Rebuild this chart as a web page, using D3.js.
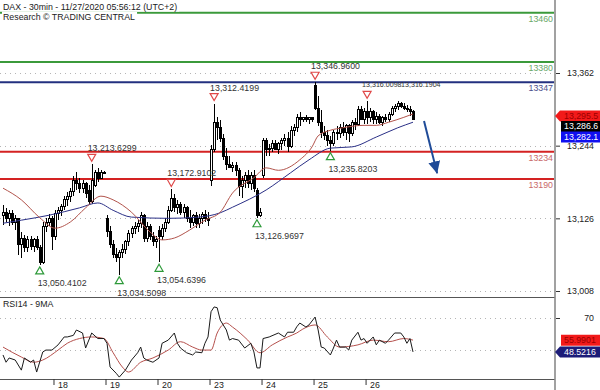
<!DOCTYPE html>
<html>
<head>
<meta charset="utf-8">
<script src="https://cdn.jsdelivr.net/npm/d3@7"></script>
<style>
  body { margin: 0; background: #fff; }
  svg text { font-family: Arial, "Liberation Sans", sans-serif; }
</style>
</head>
<body>
<svg id="chart" width="600" height="390"></svg>
<script>
// DAX 30min bars, [open, high, low, close], 17 bars per session
const candles = [
  [13131,13148,13115,13136],[13136,13143,13120,13126],[13126,13139,13113,13134],[13134,13139,13115,13120],
  [13120,13131,13107,13126],[13126,13126,13066,13083],[13083,13104,13061,13094],[13094,13099,13071,13078],
  [13078,13097,13071,13091],[13091,13097,13075,13081],[13081,13094,13071,13091],[13091,13097,13075,13078],
  [13078,13083,13050.41,13055],[13055,13120,13052,13113],[13113,13126,13104,13120],[13120,13133,13113,13126],
  [13126,13130,13075,13097],
  [13097,13139,13091,13134],[13134,13144,13123,13139],[13139,13149,13129,13146],[13146,13162,13139,13156],
  [13156,13169,13146,13162],[13162,13175,13152,13169],[13169,13195,13162,13188],[13188,13201,13172,13182],
  [13182,13191,13167,13175],[13175,13188,13167,13182],[13182,13185,13159,13167],[13172,13180,13148,13153],
  [13153,13213.63,13150,13188],[13180,13204,13177,13201],[13201,13207,13185,13191],[13191,13204,13191,13201],
  [13201,13203,13199,13201],
  [13126,13131,13096,13104],[13104,13113,13078,13084],[13084,13091,13062,13068],[13068,13078,13055,13062],
  [13062,13075,13034.51,13071],[13071,13084,13062,13075],[13075,13091,13068,13088],[13088,13107,13081,13101],
  [13101,13113,13094,13110],[13110,13120,13101,13113],[13113,13123,13104,13117],[13117,13136,13110,13130],
  [13130,13133,13088,13094],[13094,13120,13088,13113],[13113,13117,13091,13097],[13097,13104,13081,13088],
  [13088,13097,13078,13091],
  [13107,13113,13054.64,13097],[13097,13117,13091,13110],[13110,13126,13104,13120],[13120,13146,13117,13139],
  [13139,13172.91,13136,13159],[13159,13165,13136,13143],[13143,13156,13133,13149],[13149,13152,13131,13136],
  [13136,13149,13126,13143],[13143,13146,13120,13126],[13126,13139,13110,13120],[13120,13133,13113,13130],
  [13130,13136,13110,13117],[13117,13133,13110,13126],[13126,13136,13117,13133],[13133,13139,13120,13126],
  [13126,13136,13113,13123],
  [13188,13245,13179,13237],[13237,13312.42,13234,13282],[13282,13291,13253,13273],[13273,13286,13250,13256],
  [13256,13263,13221,13227],[13227,13240,13204,13214],[13214,13227,13208,13208],[13208,13217,13201,13211],
  [13211,13217,13195,13204],[13204,13208,13162,13178],[13178,13195,13159,13188],[13188,13201,13175,13195],
  [13195,13204,13175,13182],[13182,13201,13172,13195],[13195,13204,13169,13175],[13172,13175,13126.97,13131],
  [13131,13143,13128,13136],
  [13195,13256,13191,13253],[13253,13256,13227,13237],[13237,13246,13227,13240],[13240,13253,13234,13247],
  [13247,13253,13237,13237],[13237,13250,13230,13247],[13247,13256,13237,13253],[13253,13263,13243,13256],
  [13256,13266,13234,13243],[13243,13276,13240,13269],[13269,13279,13260,13273],[13273,13295,13266,13289],
  [13289,13299,13276,13286],[13286,13289,13282,13289],[13289,13294,13282,13286],[13286,13289,13279,13289],
  [13289,13291,13282,13287],
  [13341,13346.96,13302,13305],[13305,13325,13276,13282],[13282,13302,13256,13266],[13266,13276,13253,13260],
  [13260,13269,13243,13253],[13253,13259,13235.82,13247],[13247,13269,13243,13266],[13266,13276,13253,13263],
  [13263,13279,13256,13273],[13273,13282,13260,13266],[13266,13279,13253,13276],[13276,13279,13250,13263],
  [13263,13286,13260,13282],[13282,13289,13269,13279],[13279,13308,13276,13302],[13302,13308,13286,13286],
  [13286,13305,13279,13299],
  [13299,13316.01,13279,13289],[13289,13305,13282,13299],[13299,13302,13279,13286],[13286,13299,13279,13292],
  [13292,13295,13279,13282],[13282,13292,13276,13289],[13289,13295,13282,13286],[13286,13299,13282,13295],
  [13295,13308,13292,13305],[13305,13312,13299,13308],[13308,13316.19,13302,13312],[13312,13315,13305,13308],
  [13308,13313,13302,13305],[13305,13310,13299,13302],[13302,13308,13292,13299],[13299,13302,13286,13286.6]
]

// session starts (bar index) and their date labels
const dayStart = [17, 34, 51, 68, 85, 102, 119]
const dayLabels = ['18', '19', '20', '23', '24', '25', '26']

const priceTicks = [13008, 13126, 13244, 13362]
const rsiTicks = [70]
const rsiGridLevels = [50, 70]

// support / resistance levels
const resistances = [13460, 13380]
const pivot = [13347]
const supports = [13234, 13190]

// moving averages: [bar index, value]
const maFast = [[0,13175],[6,13156],[12,13127],[17,13110],[22,13120],[27,13143],[32,13162],[36,13156],
  [42,13136],[48,13104],[52,13091],[56,13094],[61,13107],[66,13123],[71,13136],[75,13167],[82,13192],
  [86,13208],[90,13204],[97,13221],[101,13242],[103,13260],[107,13269],[111,13273],[118,13277],
  [122,13277],[126,13282],[131,13290],[134,13295.5]]
const maSlow = [[0,13118],[6,13123],[15,13131],[25,13143],[31,13151],[36,13139],[42,13128],[54,13126],
  [64,13128],[71,13135],[75,13144],[86,13172],[94,13200],[100,13221],[107,13240],[114,13242],
  [122,13258],[129,13273],[134,13282.1]]

// RSI14 and its 9MA: [bar index, value]
const rsi = [[0,46.6],[1,42],[2,44.7],[4,43.4],[6,37],[7,44.7],[9,42],[10,43.4],[11,35.8],[13,48.5],
  [14,49.7],[16,49.7],[18,53],[20,58],[21,58],[23,59],[24,62.4],[26,60.5],[27,51],[29,60.5],[31,57],
  [33,57],[34,54],[35,39],[37,35],[38,32.6],[40,37],[42,43.4],[44,48],[45,51.6],[46,44.7],[47,43.4],
  [49,42],[51,44.7],[52,54],[54,56],[56,60.5],[57,54],[58,51],[60,48],[62,46.6],[63,48.5],[65,48],
  [66,54],[67,58],[68,74],[69,77],[70,76.5],[71,68.7],[73,62.4],[74,56],[75,57],[77,56],[79,51],
  [81,54],[82,48.5],[83,38.4],[84,38.4],[85,57],[87,58],[90,60.5],[92,58],[93,61],[95,61],[96,64.4],
  [97,66.8],[99,64.3],[100,65.6],[102,70.6],[103,62.4],[104,51.6],[105,51],[107,46.6],[108,51],
  [109,56],[110,51.6],[112,51.6],[113,49.7],[114,56],[116,61],[117,56],[118,57],[119,54],[121,58],
  [122,53],[123,56],[125,54],[126,56],[128,60.5],[130,60.5],[131,58],[132,54],[133,57],[134,48.5216]]
const rsiMa = [[0,51.6],[6,45.3],[10,42],[13,43.4],[18,49.7],[21,54],[25,57],[29,58],[33,57],[36,48],
  [39,39],[41,35.8],[45,42],[49,44.7],[54,49.7],[58,55],[62,51.6],[65,49.7],[68,49.7],[70,60.5],
  [73,66.8],[75,64.3],[80,56],[84,48],[88,53],[93,58],[96,60.5],[98,63],[102,65.6],[106,58],
  [110,51.6],[116,53],[121,56],[126,55],[131,57],[134,55.9901]]

// swing markers: [bar index, value]
const swingHighs = [[29,13213.6299],[55,13172.9102],[69,13312.4199],[102,13346.9600]]
// the two near-equal highs of the 26th, labelled side by side
const twinHighs = [[119,13316.0098],[129,13316.1904]]
const swingLows = [[12,13050.4102],[38,13034.5098],[51,13054.6396],[83,13126.9697],[107,13235.8203]]

// projected move arrow: [bar index, price]
const arrowPath = [[137.6,13284],[141.9,13199]]

const svg = d3.select('#chart')
const axisX = 555
const mainBottom = 297
const rsiBottom = 379
const fmtP = d3.format(',.4f')

const x = d3.scaleLinear().domain([0, candles.length - 1]).range([3, 413])
const y = d3.scaleLinear().domain([13008, 13362]).range([291, 73])
const yr = d3.scaleLinear().domain([50, 70]).range([349.6, 318])

const defs = svg.append('defs')
defs.append('clipPath').attr('id', 'clipMain')
  .append('rect').attr('x', 0).attr('y', 0).attr('width', axisX - 1).attr('height', mainBottom)
defs.append('clipPath').attr('id', 'clipRsi')
  .append('rect').attr('x', 0).attr('y', mainBottom + 1).attr('width', axisX - 1).attr('height', rsiBottom - mainBottom - 2)
defs.append('marker').attr('id', 'arrowHead')
  .attr('markerUnits', 'userSpaceOnUse').attr('markerWidth', 14).attr('markerHeight', 14)
  .attr('refX', 12).attr('refY', 6).attr('orient', 'auto')
  .append('path').attr('d', 'M0,0 L12,6 L0,12 Z').attr('fill', '#1f4b98')

// dotted grid
const grid = svg.append('g')
grid.selectAll('line.pg').data(priceTicks).join('line')
  .attr('x1', 0).attr('x2', axisX - 2)
  .attr('y1', d => Math.round(y(d)) + 0.5).attr('y2', d => Math.round(y(d)) + 0.5)
  .attr('stroke', '#b5b5b5').attr('stroke-dasharray', '1,4')
grid.selectAll('line.rg').data(rsiGridLevels).join('line')
  .attr('x1', 0).attr('x2', axisX - 2)
  .attr('y1', d => Math.round(yr(d)) + 0.5).attr('y2', d => Math.round(yr(d)) + 0.5)
  .attr('stroke', '#b5b5b5').attr('stroke-dasharray', '1,4')

// level lines
const levelG = svg.append('g')
const levelSets = [
  { vals: resistances, line: '#3b9a3b', text: '#69a869' },
  { vals: pivot, line: '#23307f', text: '#4a4f8c' },
  { vals: supports, line: '#d42222', text: '#c96a6a' }
]
levelSets.forEach(s => {
  levelG.selectAll(null).data(s.vals).join('line')
    .attr('x1', 0).attr('x2', axisX - 1)
    .attr('y1', d => y(d)).attr('y2', d => y(d))
    .attr('stroke', s.line).attr('stroke-width', 2)
  levelG.selectAll(null).data(s.vals).join('text')
    .attr('x', axisX - 2).attr('y', d => y(d) + 6)
    .attr('text-anchor', 'end').attr('dominant-baseline', 'central')
    .attr('font-size', 8.8).attr('fill', s.text)
    .text(d => d)
})

// candles
const main = svg.append('g').attr('clip-path', 'url(#clipMain)')
const bars = main.append('g').attr('shape-rendering', 'crispEdges')
bars.selectAll('line').data(candles).join('line')
  .attr('x1', (d, i) => Math.round(x(i)) + 0.5).attr('x2', (d, i) => Math.round(x(i)) + 0.5)
  .attr('y1', d => y(d[1])).attr('y2', d => y(d[2]))
  .attr('stroke', '#000')
bars.selectAll('rect').data(candles).join('rect')
  .attr('x', (d, i) => Math.round(x(i)) - 0.5)
  .attr('y', d => y(Math.max(d[0], d[3])))
  .attr('width', 2)
  .attr('height', d => Math.max(1, Math.abs(y(d[0]) - y(d[3]))))
  .attr('fill', d => d[3] >= d[0] ? '#fff' : '#000')
  .attr('stroke', '#000')

// moving averages
const maLine = d3.line().x(d => x(d[0])).y(d => y(d[1])).curve(d3.curveMonotoneX)
main.append('path').datum(maSlow).attr('d', maLine)
  .attr('fill', 'none').attr('stroke', '#2a2f86').attr('stroke-width', 1)
main.append('path').datum(maFast).attr('d', maLine)
  .attr('fill', 'none').attr('stroke', '#b2544c').attr('stroke-width', 1)

// swing markers
const mk = svg.append('g')
const hiTri = d => {
  const cx = x(d[0]), t = y(d[1]) - 10
  return `M${cx - 4},${t} L${cx + 4},${t} L${cx},${t + 7} Z`
}
mk.selectAll('path.hi').data(swingHighs.concat(twinHighs.slice(0, 1))).join('path')
  .attr('d', hiTri)
  .attr('fill', '#fff').attr('stroke', '#e04848').attr('stroke-width', 1.2)
mk.selectAll('text.hi').data(swingHighs).join('text')
  .attr('x', d => x(d[0]) - 4).attr('y', d => y(d[1]) - 16)
  .attr('dominant-baseline', 'central').attr('font-size', 8.8).attr('fill', '#333')
  .text(d => fmtP(d[1]))
// twin labels share the space between the two bars, smaller so they do not collide
const twinFirstX = x(twinHighs[0][0]) - 5
mk.selectAll('text.twin').data(twinHighs).join('text')
  .attr('x', (d, k) => k === 0 ? twinFirstX : twinFirstX + 39)
  .attr('y', d => y(twinHighs[0][1]) - 16)
  .attr('dominant-baseline', 'central').attr('font-size', 7.1).attr('fill', '#333')
  .text(d => fmtP(d[1]))
mk.selectAll('path.lo').data(swingLows).join('path')
  .attr('d', d => {
    const cx = x(d[0]), t = y(d[1]) + 2
    return `M${cx},${t} L${cx + 4},${t + 7} L${cx - 4},${t + 7} Z`
  })
  .attr('fill', '#fff').attr('stroke', '#2e9a3a').attr('stroke-width', 1.2)
mk.selectAll('text.lo').data(swingLows).join('text')
  .attr('x', d => x(d[0]) - 2).attr('y', d => y(d[1]) + 18)
  .attr('dominant-baseline', 'central').attr('font-size', 8.8).attr('fill', '#333')
  .text(d => fmtP(d[1]))

// projection arrow
svg.append('line')
  .attr('x1', x(arrowPath[0][0])).attr('y1', y(arrowPath[0][1]))
  .attr('x2', x(arrowPath[1][0])).attr('y2', y(arrowPath[1][1]))
  .attr('stroke', '#1f4b98').attr('stroke-width', 2)
  .attr('marker-end', 'url(#arrowHead)')

// RSI panel
const rsiG = svg.append('g').attr('clip-path', 'url(#clipRsi)')
rsiG.append('path').datum(rsiMa)
  .attr('d', d3.line().x(d => x(d[0])).y(d => yr(d[1])).curve(d3.curveMonotoneX))
  .attr('fill', 'none').attr('stroke', '#b5504c').attr('stroke-width', 1)
rsiG.append('path').datum(rsi)
  .attr('d', d3.line().x(d => x(d[0])).y(d => yr(d[1])))
  .attr('fill', 'none').attr('stroke', '#1a1a1a').attr('stroke-width', 1)

// header texts with white backing
const header = [
  ['DAX - 30min - 11/27/2020 05:56:12 (UTC+2)', 6.5],
  ['Research \u00a9 TRADING CENTRAL', 17]
]
header.forEach(h => {
  const t = svg.append('text').attr('x', 3).attr('y', h[1])
    .attr('dominant-baseline', 'central').attr('font-size', 8.8).attr('fill', '#222').text(h[0])
  const b = t.node().getBBox()
  svg.insert('rect', () => t.node())
    .attr('x', b.x - 1).attr('y', b.y).attr('width', b.width + 3).attr('height', b.height).attr('fill', '#fff')
})
svg.append('text').attr('x', 3).attr('y', 303.5)
  .attr('dominant-baseline', 'central').attr('font-size', 8.8).attr('fill', '#222').text('RSI14 - 9MA')

// frame lines
svg.append('line').attr('x1', 0).attr('x2', axisX).attr('y1', mainBottom + 0.5).attr('y2', mainBottom + 0.5)
  .attr('stroke', '#555').attr('stroke-width', 1.2)
svg.append('line').attr('x1', 0).attr('x2', axisX).attr('y1', rsiBottom + 0.5).attr('y2', rsiBottom + 0.5)
  .attr('stroke', '#555').attr('stroke-width', 1.2)
svg.append('line').attr('x1', axisX).attr('x2', axisX).attr('y1', 0).attr('y2', 390)
  .attr('stroke', '#8a8a8a').attr('stroke-width', 1.6)

// right axes
const styleAxis = g => {
  g.select('.domain').remove()
  g.selectAll('.tick line').attr('stroke', '#333')
  g.selectAll('.tick text').attr('x', 38).attr('text-anchor', 'end')
    .attr('font-size', 8.8).attr('fill', '#222')
}
svg.append('g').attr('transform', `translate(${axisX + 1},0)`)
  .call(d3.axisRight(y).tickValues(priceTicks).tickFormat(d3.format(',')).tickSize(4))
  .call(styleAxis)
svg.append('g').attr('transform', `translate(${axisX + 1},0)`)
  .call(d3.axisRight(yr).tickValues(rsiTicks).tickSize(4))
  .call(styleAxis)

// date axis
const xAxis = svg.append('g').attr('transform', `translate(0,${rsiBottom})`)
  .call(d3.axisBottom(x).tickValues(dayStart.map(i => i - 0.5)).tickSize(6)
    .tickFormat((d, k) => dayLabels[k]))
xAxis.select('.domain').remove()
xAxis.selectAll('.tick line').attr('stroke', '#333')
xAxis.selectAll('.tick text').attr('x', 4).attr('y', 6).attr('dy', 0)
  .attr('dominant-baseline', 'central').attr('text-anchor', 'start')
  .attr('font-size', 8.8).attr('fill', '#222')

// last value tags
const tag = (cy, val, bg, fg, pointer, fmt) => {
  const g = svg.append('g')
  const left = pointer ? axisX + 5 : axisX + 6
  const pts = pointer
    ? [[axisX, cy], [left, cy - 5.5], [600, cy - 5.5], [600, cy + 5.5], [left, cy + 5.5]]
    : [[left, cy - 5.5], [600, cy - 5.5], [600, cy + 5.5], [left, cy + 5.5]]
  g.append('polygon').attr('points', pts.map(p => p.join(',')).join(' ')).attr('fill', bg)
  g.append('text').attr('x', axisX + 9).attr('y', cy)
    .attr('dominant-baseline', 'central').attr('font-size', 8.8).attr('fill', fg)
    .text(fmt(val))
}
const lastClose = candles[candles.length - 1][3]
const lastFast = maFast[maFast.length - 1][1]
const lastSlow = maSlow[maSlow.length - 1][1]
const f1 = d3.format(',.1f')
const fastY = y(lastFast) + 2
tag(fastY, lastFast, '#f21a1a', '#9a0000', true, f1)
tag(fastY + 10.5, lastClose, '#000', '#fff', false, f1)
tag(fastY + 21, lastSlow, '#1010f0', '#fff', false, f1)
const f4 = d3.format('.4f')
tag(yr(rsiMa[rsiMa.length - 1][1]), rsiMa[rsiMa.length - 1][1], '#f21a1a', '#9a0000', false, f4)
tag(yr(rsi[rsi.length - 1][1]), rsi[rsi.length - 1][1], '#1c1c78', '#fff', true, f4)
</script>
